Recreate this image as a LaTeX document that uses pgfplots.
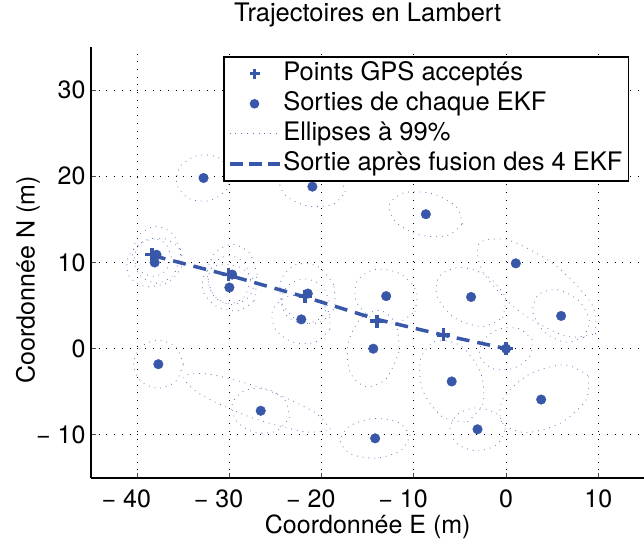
\documentclass[border=0pt]{standalone}
\usepackage{fontspec}
\setmainfont{TeX Gyre Heros}
\usepackage{pgfplots}
\pgfplotsset{compat=1.18}
\definecolor{mblue}{RGB}{56,87,168}
\newcommand{\bigf}{\fontsize{25.5}{31}\selectfont}
\newcommand{\labf}{\fontsize{25}{30}\selectfont}
\pgfplotsset{
  legmark/.style={legend image code/.code={\draw[mark repeat=2,mark phase=2,##1] plot coordinates {(0pt,0pt) (25pt,0pt) (50pt,0pt)};}},
  legline/.style={legend image code/.code={\draw[##1] (0pt,0pt) -- (50pt,0pt);}},
}
\begin{document}
\begin{tikzpicture}
\begin{axis}[
  name=ax,
  width=553.5pt, height=431pt, scale only axis,
  xmin=-45, xmax=15, ymin=-15, ymax=35,
  axis x line=bottom, axis y line=left,
  axis line style={-, line width=1.2pt, black},
  xtick={-40,-30,-20,-10,0,10},
  xticklabels={\llap{− }40,\llap{− }30,\llap{− }20,\llap{− }10,0,10},
  ytick={-10,0,10,20,30},
  yticklabels={− 10,0,10,20,30},
  tick align=inside, major tick length=5pt,
  tick style={line width=1pt, black!70},
  grid=major,
  grid style={black, line width=0.9pt, dash pattern=on 0.9pt off 6.8pt},
  ticklabel style={font=\labf},
  xticklabel style={anchor=base, yshift=-30pt},
  yticklabel style={anchor=east, xshift=-2pt},
  title={Trajectoires en Lambert},
  title style={font=\bigf, at={(axis description cs:0.5,1)}, anchor=base, yshift=19pt},
  xlabel={Coordonnée E (m)},
  xlabel style={font=\labf, at={(axis description cs:0.5,0)}, anchor=base, yshift=-56pt},
  ylabel={Coordonnée N (m)},
  ylabel style={font=\labf, at={(axis description cs:-0.1138,0.46)}, anchor=center},
  legend cell align=left,
  legend style={at={(axis description cs:0.2385,0.979)}, anchor=north west,
    draw=black, line width=1.5pt, fill=white, font=\bigf,
    inner xsep=4pt, inner ysep=2pt, row sep=0pt,
    nodes={inner sep=2pt, text height=20pt, text depth=6pt}},
  ell/.style={mblue, line width=0.8pt, dash pattern=on 0.8pt off 5pt, opacity=0.8, smooth, no markers, forget plot},
]
% ellipses (99%)
\addplot[ell] coordinates {(-35.3,10.9) (-36.06,13.23) (-37.9,14.2) (-39.74,13.23) (-40.5,10.9) (-39.74,8.57) (-37.9,7.6) (-36.06,8.57) (-35.3,10.9)};
\addplot[ell] coordinates {(-35.33,11.6) (-37.09,12.78) (-39.45,12.34) (-41.01,10.52) (-40.87,8.4) (-39.11,7.22) (-36.75,7.66) (-35.19,9.48) (-35.33,11.6)};
\addplot[ell] coordinates {(-36.3,10.6) (-36.89,12.16) (-38.3,12.8) (-39.71,12.16) (-40.3,10.6) (-39.71,9.04) (-38.3,8.4) (-36.89,9.04) (-36.3,10.6)};
\addplot[ell] coordinates {(-27.0,8.6) (-27.79,11.07) (-29.7,12.1) (-31.61,11.07) (-32.4,8.6) (-31.61,6.13) (-29.7,5.1) (-27.79,6.13) (-27.0,8.6)};
\addplot[ell] coordinates {(-27.32,5.55) (-27.18,7.59) (-28.7,9.35) (-30.98,9.79) (-32.68,8.65) (-32.82,6.61) (-31.3,4.85) (-29.02,4.41) (-27.32,5.55)};
\addplot[ell] coordinates {(-27.7,8) (-28.37,9.98) (-30,10.8) (-31.63,9.98) (-32.3,8) (-31.63,6.02) (-30,5.2) (-28.37,6.02) (-27.7,8)};
\addplot[ell] coordinates {(-18.68,7.43) (-20.38,9.52) (-22.73,9.78) (-24.36,8.06) (-24.32,5.37) (-22.62,3.28) (-20.27,3.02) (-18.64,4.74) (-18.68,7.43)};
\addplot[ell] coordinates {(-19.1,2.27) (-19.33,4.46) (-21.24,6.03) (-23.71,6.06) (-25.3,4.53) (-25.07,2.34) (-23.16,0.77) (-20.69,0.74) (-19.1,2.27)};
\addplot[ell] coordinates {(-19.2,5.5) (-19.96,7.34) (-21.8,8.1) (-23.64,7.34) (-24.4,5.5) (-23.64,3.66) (-21.8,2.9) (-19.96,3.66) (-19.2,5.5)};
\addplot[ell] coordinates {(-29.9,20.58) (-31.24,22.2) (-33.5,22.41) (-35.34,21.1) (-35.7,19.02) (-34.36,17.4) (-32.1,17.19) (-30.26,18.5) (-29.9,20.58)};
\addplot[ell] coordinates {(-17.45,18.17) (-18.21,19.95) (-20.6,21.07) (-23.23,20.85) (-24.55,19.43) (-23.79,17.65) (-21.4,16.53) (-18.77,16.75) (-17.45,18.17)};
\addplot[ell] coordinates {(-4.76,14.47) (-5.42,16.5) (-8.01,18.0) (-11.0,18.1) (-12.64,16.73) (-11.98,14.7) (-9.39,13.2) (-6.4,13.1) (-4.76,14.47)};
\addplot[ell] coordinates {(-11.64,-0.49) (-11.9,2.78) (-13.62,4.43) (-15.8,3.48) (-17.16,0.49) (-16.9,-2.78) (-15.18,-4.43) (-13.0,-3.48) (-11.64,-0.49)};
\addplot[ell] coordinates {(-10.41,-10.07) (-11.66,-8.55) (-14.4,-8.11) (-17.02,-9.01) (-17.99,-10.73) (-16.74,-12.25) (-14.0,-12.69) (-11.38,-11.79) (-10.41,-10.07)};
\addplot[ell] coordinates {(-23.51,-8.03) (-23.95,-6.02) (-25.93,-4.69) (-28.31,-4.84) (-29.69,-6.37) (-29.25,-8.38) (-27.27,-9.71) (-24.89,-9.56) (-23.51,-8.03)};
\addplot[ell] coordinates {(-19.06,-9.34) (-20.94,-7.26) (-26.36,-4.62) (-32.16,-2.96) (-34.94,-3.26) (-33.06,-5.34) (-27.64,-7.98) (-21.84,-9.64) (-19.06,-9.34)};
\addplot[ell] coordinates {(-35.0,-1.8) (-35.79,0.18) (-37.7,1.0) (-39.61,0.18) (-40.4,-1.8) (-39.61,-3.78) (-37.7,-4.6) (-35.79,-3.78) (-35.0,-1.8)};
\addplot[ell] coordinates {(-9.88,4.3) (-9.74,6.67) (-11.5,8.7) (-14.14,9.21) (-16.12,7.9) (-16.26,5.53) (-14.5,3.5) (-11.86,2.99) (-9.88,4.3)};
\addplot[ell] coordinates {(-0.36,3.59) (-0.15,6.04) (-2.08,8.46) (-5.01,9.44) (-7.24,8.41) (-7.45,5.96) (-5.52,3.54) (-2.59,2.56) (-0.36,3.59)};
\addplot[ell] coordinates {(-4.19,-8.5) (-2.5,-6.32) (-2.8,-2.67) (-4.92,0.32) (-7.61,0.9) (-9.3,-1.28) (-9.0,-4.93) (-6.88,-7.92) (-4.19,-8.5)};
\addplot[ell] coordinates {(-0.1,-9.35) (-0.98,-7.58) (-3.1,-6.85) (-5.22,-7.58) (-6.1,-9.35) (-5.22,-11.12) (-3.1,-11.85) (-0.98,-11.12) (-0.1,-9.35)};
\addplot[ell] coordinates {(8.88,-3.1) (6.34,-1.87) (2.55,-2.94) (-0.28,-5.69) (-0.48,-8.5) (2.06,-9.73) (5.85,-8.66) (8.68,-5.91) (8.88,-3.1)};
\addplot[ell] coordinates {(9.68,1.73) (9.34,5.06) (5.52,9.53) (0.46,12.52) (-2.88,12.27) (-2.54,8.94) (1.28,4.47) (6.34,1.48) (9.68,1.73)};
\addplot[ell] coordinates {(8.43,1.33) (9.01,3.35) (7.8,5.64) (5.51,6.85) (3.49,6.27) (2.91,4.25) (4.12,1.96) (6.41,0.75) (8.43,1.33)};
\addplot[ell] coordinates {(2.82,1.03) (1.41,2.33) (-0.82,2.26) (-2.57,0.87) (-2.82,-1.03) (-1.41,-2.33) (0.82,-2.26) (2.57,-0.87) (2.82,1.03)};
% fused output (dashed)
\addplot[mblue, line width=3.5pt, dash pattern=on 13pt off 8pt, no markers, forget plot] coordinates {(-38.3,10.8) (-30.0,8.5) (-21.8,6.0) (-14.0,3.4) (-6.9,1.6) (0,0)};
% EKF outputs
\addplot[only marks, mark=*, mblue, mark size=4.8pt, forget plot] coordinates {
(-32.8,19.8) (-21.0,18.8) (-8.7,15.6) (1.05,9.9) (-13.0,6.1) (-3.8,6.0) (5.96,3.8)
(-14.4,0) (-37.9,10.9) (-38.1,10.0) (-29.7,8.6) (-30.0,7.1) (-21.5,6.4) (-22.2,3.4)
(-37.7,-1.8) (-26.6,-7.2) (-14.2,-10.4) (-5.9,-3.8) (3.8,-5.9) (-3.1,-9.35) (0,0)};
% accepted GPS points
\addplot[only marks, mark=+, mblue, mark size=6.5pt, line width=3.5pt, forget plot] coordinates {
(-38.4,10.9) (-30.1,8.6) (-21.8,6.1) (-14.0,3.2) (-6.8,1.6) (0,0)};
% legend
\addlegendimage{mblue, mark=+, mark size=5pt, line width=3pt, only marks, legmark}
\addlegendentry{Points GPS acceptés}
\addlegendimage{mblue, mark=*, mark size=4pt, only marks, legmark}
\addlegendentry{Sorties de chaque EKF}
\addlegendimage{mblue, line width=0.8pt, dash pattern=on 0.8pt off 5pt, opacity=0.8, legline}
\addlegendentry{Ellipses à 99\%}
\addlegendimage{mblue, line width=3.5pt, dash pattern=on 13pt off 6pt, legline}
\addlegendentry{Sortie après fusion des 4 EKF}
\end{axis}
\pgfresetboundingbox
\path[use as bounding box] ([shift={(-91pt,-64pt)}]ax.south west) rectangle ([shift={(-0.5pt,47pt)}]ax.north east);
\end{tikzpicture}
\end{document}
